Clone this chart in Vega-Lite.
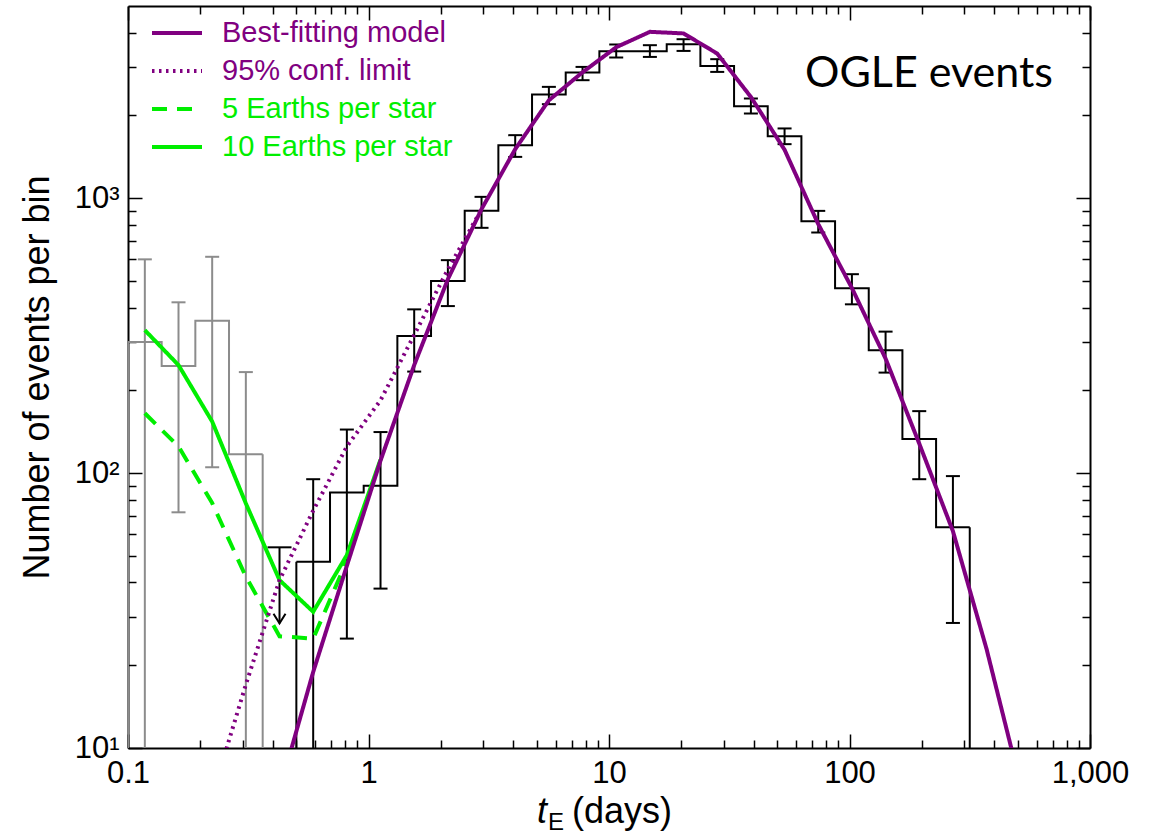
{
  "$schema": "https://vega.github.io/schema/vega-lite/v6.json",
  "width": 962,
  "height": 742,
  "autosize": {"type": "none"},
  "padding": {"left": 128, "top": 6, "right": 64, "bottom": 90},
  "background": "white",
  "config": {
    "view": {"stroke": null},
    "font": "Liberation Sans",
    "axis": {"grid": false, "domainColor": "black", "domainWidth": 2, "tickColor": "black", "tickWidth": 1.5, "labelColor": "black", "labelFont": "Liberation Sans", "titleFont": "Liberation Sans", "titleColor": "black", "titleFontWeight": "normal"}
  },
  "datasets": {
    "bins": [
      {"set": "low", "t": 0.11749, "lo": 0.1, "hi": 0.13804, "n": 300, "nlo": 1, "nhi": 599},
      {"set": "low", "t": 0.16218, "lo": 0.13804, "hi": 0.19055, "n": 245, "nlo": 72, "nhi": 418},
      {"set": "low", "t": 0.22387, "lo": 0.19055, "hi": 0.26303, "n": 358, "nlo": 105, "nhi": 612},
      {"set": "low", "t": 0.30903, "lo": 0.26303, "hi": 0.36308, "n": 117, "nlo": 1, "nhi": 233},
      {"set": "main", "t": 0.58884, "lo": 0.50119, "hi": 0.69183, "n": 47.6, "nlo": 1, "nhi": 95},
      {"set": "main", "t": 0.81283, "lo": 0.69183, "hi": 0.95499, "n": 85, "nlo": 25, "nhi": 144},
      {"set": "main", "t": 1.12202, "lo": 0.95499, "hi": 1.31826, "n": 90, "nlo": 38, "nhi": 141},
      {"set": "main", "t": 1.54882, "lo": 1.31826, "hi": 1.8197, "n": 315, "nlo": 234, "nhi": 394},
      {"set": "main", "t": 2.13796, "lo": 1.8197, "hi": 2.51189, "n": 500, "nlo": 405, "nhi": 595},
      {"set": "main", "t": 2.95121, "lo": 2.51189, "hi": 3.46737, "n": 899, "nlo": 780, "nhi": 1011},
      {"set": "main", "t": 4.0738, "lo": 3.46737, "hi": 4.7863, "n": 1558, "nlo": 1413, "nhi": 1695},
      {"set": "main", "t": 5.62341, "lo": 4.7863, "hi": 6.60693, "n": 2383, "nlo": 2197, "nhi": 2540},
      {"set": "main", "t": 7.76247, "lo": 6.60693, "hi": 9.12011, "n": 2865, "nlo": 2686, "nhi": 3002},
      {"set": "main", "t": 10.7152, "lo": 9.12011, "hi": 12.5893, "n": 3424, "nlo": 3248, "nhi": 3622},
      {"set": "main", "t": 14.7911, "lo": 12.5893, "hi": 17.378, "n": 3424, "nlo": 3264, "nhi": 3601},
      {"set": "main", "t": 20.4174, "lo": 17.378, "hi": 23.9883, "n": 3631, "nlo": 3432, "nhi": 3786},
      {"set": "main", "t": 28.1838, "lo": 23.9883, "hi": 33.1131, "n": 3027, "nlo": 2879, "nhi": 3203},
      {"set": "main", "t": 38.9045, "lo": 33.1131, "hi": 45.7088, "n": 2161, "nlo": 2032, "nhi": 2304},
      {"set": "main", "t": 53.7032, "lo": 45.7088, "hi": 63.0957, "n": 1681, "nlo": 1572, "nhi": 1793},
      {"set": "main", "t": 74.131, "lo": 63.0957, "hi": 87.0964, "n": 825, "nlo": 750, "nhi": 899},
      {"set": "main", "t": 102.329, "lo": 87.0964, "hi": 120.226, "n": 470, "nlo": 411, "nhi": 529},
      {"set": "main", "t": 141.254, "lo": 120.226, "hi": 165.959, "n": 280, "nlo": 232, "nhi": 327},
      {"set": "main", "t": 194.984, "lo": 165.959, "hi": 229.087, "n": 133, "nlo": 95, "nhi": 168},
      {"set": "main", "t": 269.153, "lo": 229.087, "hi": 316.228, "n": 63.5, "nlo": 28.5, "nhi": 97.5}
    ],
    "limit": [
      {"t": 0.42658, "limit": 53.7, "tip": 28.4}
    ],
    "curves": [
      {"series": "5 Earths per star", "t": 0.11749, "n": 165},
      {"series": "5 Earths per star", "t": 0.16218, "n": 125},
      {"series": "5 Earths per star", "t": 0.22387, "n": 77.8},
      {"series": "5 Earths per star", "t": 0.30903, "n": 42},
      {"series": "5 Earths per star", "t": 0.42658, "n": 25.5},
      {"series": "5 Earths per star", "t": 0.58884, "n": 25},
      {"series": "5 Earths per star", "t": 0.81283, "n": 48},
      {"series": "10 Earths per star", "t": 0.11749, "n": 331},
      {"series": "10 Earths per star", "t": 0.16218, "n": 247},
      {"series": "10 Earths per star", "t": 0.22387, "n": 154},
      {"series": "10 Earths per star", "t": 0.30903, "n": 77.6},
      {"series": "10 Earths per star", "t": 0.42658, "n": 40.8},
      {"series": "10 Earths per star", "t": 0.58884, "n": 31.3},
      {"series": "10 Earths per star", "t": 0.81283, "n": 50.3},
      {"series": "10 Earths per star", "t": 1.12202, "n": 112},
      {"series": "95% conf. limit", "t": 0.22387, "n": 6.7},
      {"series": "95% conf. limit", "t": 0.30903, "n": 17},
      {"series": "95% conf. limit", "t": 0.42658, "n": 40.8},
      {"series": "95% conf. limit", "t": 0.58884, "n": 73},
      {"series": "95% conf. limit", "t": 0.81283, "n": 125},
      {"series": "95% conf. limit", "t": 1.12202, "n": 184},
      {"series": "95% conf. limit", "t": 1.54882, "n": 318},
      {"series": "95% conf. limit", "t": 2.13796, "n": 550},
      {"series": "95% conf. limit", "t": 2.95121, "n": 912},
      {"series": "Best-fitting model", "t": 0.42658, "n": 7.0},
      {"series": "Best-fitting model", "t": 0.58884, "n": 18.9},
      {"series": "Best-fitting model", "t": 0.81283, "n": 46},
      {"series": "Best-fitting model", "t": 1.12202, "n": 111},
      {"series": "Best-fitting model", "t": 1.54882, "n": 247},
      {"series": "Best-fitting model", "t": 2.13796, "n": 507},
      {"series": "Best-fitting model", "t": 2.95121, "n": 912},
      {"series": "Best-fitting model", "t": 4.0738, "n": 1507},
      {"series": "Best-fitting model", "t": 5.62341, "n": 2270},
      {"series": "Best-fitting model", "t": 7.76247, "n": 2870},
      {"series": "Best-fitting model", "t": 10.7152, "n": 3540},
      {"series": "Best-fitting model", "t": 14.7911, "n": 4027},
      {"series": "Best-fitting model", "t": 20.4174, "n": 3974},
      {"series": "Best-fitting model", "t": 28.1838, "n": 3357},
      {"series": "Best-fitting model", "t": 38.9045, "n": 2333},
      {"series": "Best-fitting model", "t": 53.7032, "n": 1500},
      {"series": "Best-fitting model", "t": 74.131, "n": 805},
      {"series": "Best-fitting model", "t": 102.329, "n": 471},
      {"series": "Best-fitting model", "t": 141.254, "n": 261},
      {"series": "Best-fitting model", "t": 194.984, "n": 128},
      {"series": "Best-fitting model", "t": 269.153, "n": 61.5},
      {"series": "Best-fitting model", "t": 371.535, "n": 22.9},
      {"series": "Best-fitting model", "t": 512.861, "n": 7.4}
    ],
    "notes": [
      {"text": "OGLE events"}
    ]
  },
  "resolve": {"axis": {"x": "independent", "y": "independent"}},
  "layer": [
    {
      "data": {"name": "bins"},
      "transform": [{"fold": ["lo", "hi"], "as": ["edge", "tx"]}],
      "mark": {"type": "line", "strokeWidth": 2},
      "encoding": {
        "x": {"field": "tx", "type": "quantitative", "scale": {"type": "log", "domain": [0.1, 1000], "nice": false},
          "axis": {"orient": "bottom", "values": [0.1, 1, 10, 100, 1000], "format": ",", "labelFontSize": 31, "labelPadding": 24, "labelFlush": false, "labelOverlap": false, "tickSize": -14, "title": null}},
        "y": {"field": "n", "type": "quantitative", "scale": {"type": "log", "domain": [10, 5000], "nice": false},
          "axis": {"orient": "left", "values": [10, 100, 1000], "labelExpr": "datum.value == 10 ? '10¹' : datum.value == 100 ? '10²' : '10³'", "labelFontSize": 31, "labelPadding": 23, "labelOverlap": false, "tickSize": -14, "title": "Number of events per bin", "titleFontSize": 36, "titlePadding": 18}},
        "stroke": {"field": "set", "type": "nominal", "scale": {"domain": ["low", "main"], "range": ["#8c8c8c", "#000000"]}, "legend": null},
        "order": [{"field": "tx", "type": "quantitative"}, {"field": "edge", "type": "nominal"}]
      }
    },
    {
      "data": {"name": "bins"},
      "transform": [
        {"joinaggregate": [{"op": "min", "field": "lo", "as": "minlo"}], "groupby": ["set"]},
        {"filter": "datum.lo == datum.minlo"}
      ],
      "mark": {"type": "rule", "strokeWidth": 2, "clip": true},
      "encoding": {
        "x": {"field": "lo", "type": "quantitative", "axis": null},
        "y": {"field": "n", "type": "quantitative", "axis": null},
        "y2": {"datum": 1},
        "stroke": {"field": "set", "type": "nominal", "scale": {"domain": ["low", "main"], "range": ["#8c8c8c", "#000000"]}, "legend": null}
      }
    },
    {
      "data": {"name": "bins"},
      "transform": [
        {"joinaggregate": [{"op": "max", "field": "hi", "as": "maxhi"}], "groupby": ["set"]},
        {"filter": "datum.hi == datum.maxhi"}
      ],
      "mark": {"type": "rule", "strokeWidth": 2, "clip": true},
      "encoding": {
        "x": {"field": "hi", "type": "quantitative", "axis": null},
        "y": {"field": "n", "type": "quantitative", "axis": null},
        "y2": {"datum": 1},
        "stroke": {"field": "set", "type": "nominal", "scale": {"domain": ["low", "main"], "range": ["#8c8c8c", "#000000"]}, "legend": null}
      }
    },
    {
      "data": {"name": "bins"},
      "mark": {"type": "rule", "strokeWidth": 2, "clip": true},
      "encoding": {
        "x": {"field": "t", "type": "quantitative",
          "axis": {"orient": "bottom", "values": [0.2, 0.3, 0.4, 0.5, 0.6, 0.7, 0.8, 0.9, 2, 3, 4, 5, 6, 7, 8, 9, 20, 30, 40, 50, 60, 70, 80, 90, 200, 300, 400, 500, 600, 700, 800, 900], "labels": false, "domain": false, "tickSize": -8, "title": null}},
        "y": {"field": "nlo", "type": "quantitative",
          "axis": {"orient": "left", "values": [20, 30, 40, 50, 60, 70, 80, 90, 200, 300, 400, 500, 600, 700, 800, 900, 2000, 3000, 4000], "labels": false, "domain": false, "tickSize": -8, "title": null}},
        "y2": {"field": "nhi"},
        "stroke": {"field": "set", "type": "nominal", "scale": {"domain": ["low", "main"], "range": ["#8c8c8c", "#000000"]}, "legend": null}
      }
    },
    {
      "data": {"name": "bins"},
      "mark": {"type": "point", "shape": "stroke", "size": 196, "strokeWidth": 2, "filled": false, "opacity": 1, "clip": true},
      "encoding": {
        "x": {"field": "t", "type": "quantitative",
          "axis": {"orient": "top", "values": [0.1, 1, 10, 100, 1000], "labels": false, "tickSize": -14, "title": null}},
        "y": {"field": "nhi", "type": "quantitative",
          "axis": {"orient": "right", "values": [10, 100, 1000], "labels": false, "tickSize": -14, "title": null}},
        "stroke": {"field": "set", "type": "nominal", "scale": {"domain": ["low", "main"], "range": ["#8c8c8c", "#000000"]}, "legend": null}
      }
    },
    {
      "data": {"name": "bins"},
      "mark": {"type": "point", "shape": "stroke", "size": 196, "strokeWidth": 2, "filled": false, "opacity": 1, "clip": true},
      "encoding": {
        "x": {"field": "t", "type": "quantitative", "axis": null},
        "y": {"field": "nlo", "type": "quantitative", "axis": null},
        "stroke": {"field": "set", "type": "nominal", "scale": {"domain": ["low", "main"], "range": ["#8c8c8c", "#000000"]}, "legend": null}
      }
    },
    {
      "data": {"name": "limit"},
      "mark": {"type": "point", "shape": "stroke", "size": 576, "strokeWidth": 2, "filled": false, "opacity": 1, "color": "black"},
      "encoding": {
        "x": {"field": "t", "type": "quantitative", "axis": null},
        "y": {"field": "limit", "type": "quantitative", "axis": null}
      }
    },
    {
      "data": {"name": "limit"},
      "mark": {"type": "rule", "strokeWidth": 2, "color": "black"},
      "encoding": {
        "x": {"field": "t", "type": "quantitative", "axis": null},
        "y": {"field": "limit", "type": "quantitative", "axis": null},
        "y2": {"field": "tip"}
      }
    },
    {
      "data": {"name": "limit"},
      "mark": {"type": "point", "shape": "M-1,-1.6L0,0L1,-1.6", "size": 144, "strokeWidth": 2, "filled": false, "opacity": 1, "color": "black"},
      "encoding": {
        "x": {"field": "t", "type": "quantitative", "axis": null},
        "y": {"field": "tip", "type": "quantitative", "axis": null}
      }
    },
    {
      "data": {"name": "curves"},
      "mark": {"type": "line", "strokeWidth": 4, "clip": true, "strokeCap": "butt"},
      "encoding": {
        "x": {"field": "t", "type": "quantitative",
          "axis": {"orient": "top", "values": [0.2, 0.3, 0.4, 0.5, 0.6, 0.7, 0.8, 0.9, 2, 3, 4, 5, 6, 7, 8, 9, 20, 30, 40, 50, 60, 70, 80, 90, 200, 300, 400, 500, 600, 700, 800, 900], "labels": false, "domain": false, "tickSize": -8, "title": null}},
        "y": {"field": "n", "type": "quantitative",
          "axis": {"orient": "right", "values": [20, 30, 40, 50, 60, 70, 80, 90, 200, 300, 400, 500, 600, 700, 800, 900, 2000, 3000, 4000], "labels": false, "domain": false, "tickSize": -8, "title": null}},
        "color": {"field": "series", "type": "nominal",
          "scale": {"domain": ["Best-fitting model", "95% conf. limit", "5 Earths per star", "10 Earths per star"], "range": ["#800080", "#800080", "#00ee00", "#00ee00"]},
          "legend": {"title": null, "orient": "none", "legendX": 22, "legendY": 8, "symbolType": "stroke", "symbolSize": 2500, "symbolStrokeWidth": 4, "labelFontSize": 29, "labelFont": "Liberation Sans", "labelOffset": 18, "labelLimit": 400, "clipHeight": 38, "rowPadding": 0, "padding": 0,
            "encode": {"labels": {"update": {"fill": {"signal": "indexof(['Best-fitting model', '95% conf. limit'], datum.value) >= 0 ? '#800080' : '#00ee00'"}}}}}},
        "strokeDash": {"field": "series", "type": "nominal",
          "scale": {"domain": ["Best-fitting model", "95% conf. limit", "5 Earths per star", "10 Earths per star"], "range": [[1, 0], [2.5, 4.5], [15, 10], [1, 0]]},
          "legend": {"title": null, "orient": "none", "legendX": 22, "legendY": 8, "symbolType": "stroke", "symbolSize": 2500, "symbolStrokeWidth": 4, "labelFontSize": 29, "labelFont": "Liberation Sans", "labelOffset": 18, "labelLimit": 400, "clipHeight": 38, "rowPadding": 0, "padding": 0,
            "encode": {"labels": {"update": {"fill": {"signal": "indexof(['Best-fitting model', '95% conf. limit'], datum.value) >= 0 ? '#800080' : '#00ee00'"}}}}}},
        "order": {"field": "t", "type": "quantitative"}
      }
    },
    {
      "data": {"name": "notes"},
      "mark": {"type": "text", "font": "Lato", "fontSize": 43, "align": "center", "baseline": "alphabetic", "color": "black"},
      "encoding": {
        "x": {"datum": 214, "type": "quantitative", "axis": null},
        "y": {"datum": 2533, "type": "quantitative", "axis": null},
        "text": {"field": "text"}
      }
    },
    {
      "data": {"values": [{"text": "t"}]},
      "mark": {"type": "text", "font": "Liberation Sans", "fontSize": 36, "fontStyle": "italic", "align": "right", "baseline": "alphabetic", "color": "black"},
      "encoding": {
        "x": {"datum": 5.52, "type": "quantitative", "axis": null},
        "y": {"datum": 5.34, "type": "quantitative", "axis": null},
        "text": {"field": "text"}
      }
    },
    {
      "data": {"values": [{"text": "E"}]},
      "mark": {"type": "text", "font": "Liberation Sans", "fontSize": 24, "align": "left", "baseline": "alphabetic", "color": "black"},
      "encoding": {
        "x": {"datum": 5.58, "type": "quantitative", "axis": null},
        "y": {"datum": 5.03, "type": "quantitative", "axis": null},
        "text": {"field": "text"}
      }
    },
    {
      "data": {"values": [{"text": "(days)"}]},
      "mark": {"type": "text", "font": "Liberation Sans", "fontSize": 36, "align": "left", "baseline": "alphabetic", "color": "black"},
      "encoding": {
        "x": {"datum": 7.02, "type": "quantitative", "axis": null},
        "y": {"datum": 5.34, "type": "quantitative", "axis": null},
        "text": {"field": "text"}
      }
    }
  ]
}
